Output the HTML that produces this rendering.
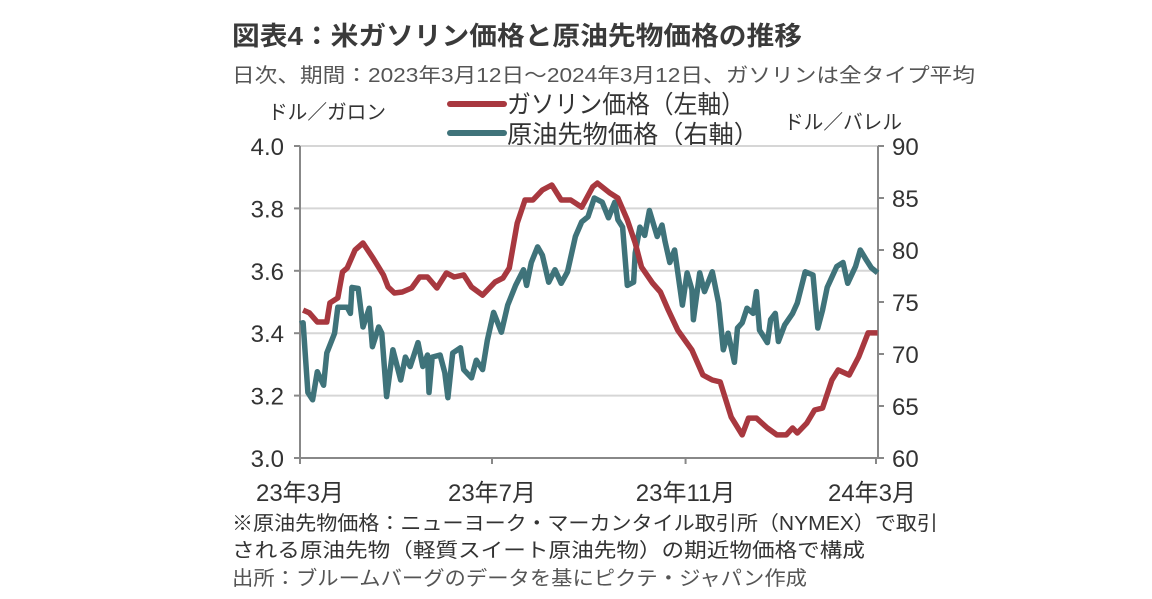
<!DOCTYPE html>
<html><head><meta charset="utf-8"><style>
body{margin:0;background:#fff;}
svg{display:block;font-family:"Liberation Sans","Noto Sans CJK JP",sans-serif;}
</style></head><body>
<svg id="chart" width="1152" height="599" viewBox="0 0 1152 599" xmlns="http://www.w3.org/2000/svg">
<text x="232" y="45" font-size="26" font-weight="bold" fill="#3a3a3a" textLength="570" lengthAdjust="spacingAndGlyphs">図表4：米ガソリン価格と原油先物価格の推移</text>
<text x="232" y="82" font-size="20" fill="#555" textLength="743" lengthAdjust="spacingAndGlyphs">日次、期間：2023年3月12日～2024年3月12日、ガソリンは全タイプ平均</text>
<text x="268" y="119" font-size="20" fill="#333" textLength="118" lengthAdjust="spacingAndGlyphs">ドル／ガロン</text>
<text x="784" y="129" font-size="20" fill="#333" textLength="118" lengthAdjust="spacingAndGlyphs">ドル／バレル</text>
<g>
<line x1="450" y1="104" x2="504" y2="104" stroke="#a8383f" stroke-width="6" stroke-linecap="round"/>
<text x="507" y="113" font-size="25" fill="#333" textLength="238" lengthAdjust="spacingAndGlyphs">ガソリン価格（左軸）</text>
<line x1="450" y1="133" x2="504" y2="133" stroke="#3f737a" stroke-width="6" stroke-linecap="round"/>
<text x="507" y="143" font-size="25" fill="#333" textLength="252" lengthAdjust="spacingAndGlyphs">原油先物価格（右軸）</text>
</g>
<g id="grid"></g>
<g id="axes"></g>
<g id="series"></g>
<text x="232" y="530" font-size="20" fill="#333" textLength="706" lengthAdjust="spacingAndGlyphs">※原油先物価格：ニューヨーク・マーカンタイル取引所（NYMEX）で取引</text>
<text x="232" y="557" font-size="20" fill="#333" textLength="633" lengthAdjust="spacingAndGlyphs">される原油先物（軽質スイート原油先物）の期近物価格で構成</text>
<text x="232" y="585" font-size="20" fill="#555" textLength="575" lengthAdjust="spacingAndGlyphs">出所：ブルームバーグのデータを基にピクテ・ジャパン作成</text>
</svg>
<script>
const leftTicks=[3.0,3.2,3.4,3.6,3.8,4.0];
const leftTickLabels=["3.0","3.2","3.4","3.6","3.8","4.0"];
const rightTicks=[60,65,70,75,80,85,90];
const rightTickLabels=["60","65","70","75","80","85","90"];
const xTickDays=[0,122,245,366];
const xTickLabels=["23年3月","23年7月","23年11月","24年3月"];
const gasDays=[2,6,11,17,19,24,27,30,35,40,46,53,56,60,65,71,76,81,87,93,98,104,109,116,124,129,133,138,143,148,154,160,166,172,179,186,189,197,202,208,213,217,224,229,234,240,249,256,262,267,274,281,285,290,297,303,309,313,316,322,327,332,338,342,349,355,361,367];
const gasValues=[3.474,3.465,3.436,3.436,3.497,3.513,3.596,3.609,3.667,3.689,3.644,3.587,3.548,3.529,3.532,3.545,3.580,3.580,3.545,3.593,3.580,3.587,3.548,3.522,3.564,3.577,3.609,3.753,3.827,3.827,3.859,3.875,3.827,3.827,3.804,3.869,3.881,3.849,3.833,3.763,3.689,3.612,3.561,3.532,3.474,3.410,3.346,3.266,3.250,3.244,3.131,3.074,3.128,3.128,3.096,3.074,3.074,3.096,3.080,3.112,3.154,3.160,3.250,3.282,3.266,3.324,3.401,3.401];
const crudeDays=[0,2,5,8,11,15,17,22,24,30,32,33,37,40,44,46,50,52,55,59,64,67,70,75,78,81,82,84,89,92,94,97,102,104,109,112,116,119,123,128,132,137,142,144,147,151,154,158,162,166,170,175,179,183,187,192,196,200,202,205,208,212,213,216,219,222,227,230,232,235,238,243,246,249,250,254,257,262,266,269,272,276,278,281,284,288,290,292,297,299,302,304,308,313,316,321,326,329,332,335,341,345,348,353,356,360,363,367];
const crudeValues=[72.9,73.0,66.3,65.6,68.3,67.0,70.1,72.0,74.5,74.5,73.9,76.4,76.3,72.6,74.4,70.7,72.6,72.0,65.9,70.4,67.5,69.7,68.8,71.1,68.8,69.9,66.3,69.7,69.9,68.2,65.8,70.1,70.6,68.5,67.7,69.4,68.5,71.3,74.0,72.1,74.7,76.6,78.1,76.6,78.8,80.3,79.5,76.9,78.1,76.8,77.9,81.3,82.7,83.2,85.0,84.6,83.1,84.6,82.9,82.2,76.6,76.9,79.7,82.2,81.4,83.8,81.3,82.4,80.8,78.8,80.0,74.7,77.8,76.2,73.3,77.8,76.0,77.9,74.9,70.4,72.0,69.2,72.5,73.0,74.4,73.9,76.0,72.3,71.1,73.3,73.9,71.2,72.8,73.9,74.9,77.9,77.6,72.5,74.2,76.4,78.4,78.8,76.8,78.4,80.0,79.0,78.3,77.8];

const X0=300,X1=876,Y0=458,Y1=146;
const xs=d=>X0+d*(X1-X0)/366;
const yl=v=>Y0-(v-3)/(4-3)*(Y0-Y1);
const yr=v=>Y0-(v-60)/(90-60)*(Y0-Y1);
const NS="http://www.w3.org/2000/svg";
function mk(tag,attrs,parent){const e=document.createElementNS(NS,tag);for(const k in attrs)e.setAttribute(k,attrs[k]);parent.appendChild(e);return e;}
const grid=document.getElementById('grid'),axes=document.getElementById('axes'),series=document.getElementById('series');
leftTicks.forEach((t,i)=>{
  if(i>0){const g=mk('line',{x1:X0,x2:878,y1:yl(t),y2:yl(t),stroke:'#d6d6d6','stroke-width':2},grid);
  
  }
  const tx=mk('text',{x:284,y:yl(t)+9,'font-size':24,fill:'#333','text-anchor':'end'},axes);
  tx.textContent=leftTickLabels[i];
  
  
  const tk=mk('line',{x1:294,x2:X0,y1:yl(t),y2:yl(t),stroke:'#888','stroke-width':2},axes);
  
  
});
rightTicks.forEach((t,i)=>{
  const tx=mk('text',{x:892,y:yr(t)+9,'font-size':24,fill:'#333'},axes);
  tx.textContent=rightTickLabels[i];
  
  
  const tk=mk('line',{x1:878,x2:884,y1:yr(t),y2:yr(t),stroke:'#888','stroke-width':2},axes);
  
  
});
xTickDays.forEach((d,i)=>{
  const tx=mk('text',{x:xs(d)+(i==3?-4:0),y:501,'font-size':24,fill:'#333','text-anchor':'middle'},axes);
  tx.textContent=xTickLabels[i];
  
  
  const tk=mk('line',{x1:xs(d),x2:xs(d),y1:Y0,y2:Y0+6,stroke:'#888','stroke-width':2},axes);
  
  
});
const la=mk('line',{x1:X0,x2:X0,y1:Y1,y2:Y0,stroke:'#888','stroke-width':2},axes);


const ra=mk('line',{x1:878,x2:878,y1:Y1,y2:Y0,stroke:'#888','stroke-width':2},axes);


const ba=mk('line',{x1:X0,x2:878,y1:Y0,y2:Y0,stroke:'#888','stroke-width':2},axes);



const cp=mk('polyline',{points:crudeDays.map((d,i)=>xs(d).toFixed(1)+','+yr(crudeValues[i]).toFixed(1)).join(' '),fill:'none',stroke:'#3f737a','stroke-width':5.5,'stroke-linejoin':'round'},series);


const gp=mk('polyline',{points:gasDays.map((d,i)=>xs(d).toFixed(1)+','+yl(gasValues[i]).toFixed(1)).join(' '),fill:'none',stroke:'#a8383f','stroke-width':5.5,'stroke-linejoin':'round'},series);


</script>
</body></html>
